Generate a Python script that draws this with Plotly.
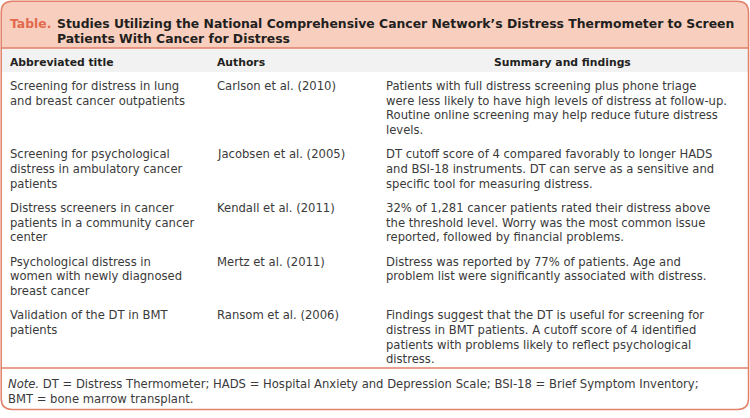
import plotly.graph_objects as go

# ---- data ----
table_label = "Table."
title_lines = [
    "Studies Utilizing the National Comprehensive Cancer Network’s Distress Thermometer to Screen",
    "Patients With Cancer for Distress",
]
column_headers = ["Abbreviated title", "Authors", "Summary and findings"]
abbreviated_titles = [
    "Screening for distress in lung\nand breast cancer outpatients",
    "Screening for psychological\ndistress in ambulatory cancer\npatients",
    "Distress screeners in cancer\npatients in a community cancer\ncenter",
    "Psychological distress in\nwomen with newly diagnosed\nbreast cancer",
    "Validation of the DT in BMT\npatients",
]
authors = [
    "Carlson et al. (2010)",
    "Jacobsen et al. (2005)",
    "Kendall et al. (2011)",
    "Mertz et al. (2011)",
    "Ransom et al. (2006)",
]
summaries = [
    "Patients with full distress screening plus phone triage\nwere less likely to have high levels of distress at follow-up.\nRoutine online screening may help reduce future distress\nlevels.",
    "DT cutoff score of 4 compared favorably to longer HADS\nand BSI-18 instruments. DT can serve as a sensitive and\nspecific tool for measuring distress.",
    "32% of 1,281 cancer patients rated their distress above\nthe threshold level. Worry was the most common issue\nreported, followed by financial problems.",
    "Distress was reported by 77% of patients. Age and\nproblem list were significantly associated with distress.",
    "Findings suggest that the DT is useful for screening for\ndistress in BMT patients. A cutoff score of 4 identified\npatients with problems likely to reflect psychological\ndistress.",
]
note_lines = [
    "<i>Note.</i> DT = Distress Thermometer; HADS = Hospital Anxiety and Depression Scale; BSI-18 = Brief Symptom Inventory;",
    "BMT = bone marrow transplant.",
]

# ---- layout / style ----
W, H = 750, 418
FONT = "DejaVu Sans"
TXT = "#3a3a3a"
DARK = "#231F20"
SALMON = "#E2806A"
BAND = "#F8CFBE"
GRAYROW = "#F2F2F2"
BODY_SIZE = 11.6
HEAD_SIZE = 10.8
TITLE_SIZE = 12.4
LINE_H = 14.6
ROW_GAP = 24.5
FIRST_ROW_Y = 86
col_x = [8, 215, 384]
note_y = [384, 398.5]
L, R, T, B = 1.2, 748.5, 1.2, 409.5
RAD = 11
BAND_BOTTOM = 48
HDR_BOTTOM = 72
SEP_Y = 368

fig = go.Figure()

def ann(x, y, text, size=BODY_SIZE, color=TXT, anchor="left", bold=False):
    fig.add_annotation(
        x=x, y=y, xref="x", yref="y", text=(f"<b>{text}</b>" if bold else text),
        showarrow=False, xanchor=anchor, yanchor="middle",
        font=dict(family=FONT, size=size, color=color), align=anchor,
    )

# header band with rounded top corners
fig.add_shape(type="path",
              path=f"M{L},{BAND_BOTTOM} V{T+RAD} Q{L},{T} {L+RAD},{T} H{R-RAD} Q{R},{T} {R},{T+RAD} V{BAND_BOTTOM} Z",
              fillcolor=BAND, line=dict(width=0), layer="below")
# column header row
fig.add_shape(type="rect", x0=L, x1=R, y0=BAND_BOTTOM, y1=HDR_BOTTOM,
              fillcolor=GRAYROW, line=dict(width=0), layer="below")
# rules
fig.add_shape(type="line", x0=L, x1=R, y0=BAND_BOTTOM, y1=BAND_BOTTOM, line=dict(color=SALMON, width=1.3))
fig.add_shape(type="line", x0=L, x1=R, y0=SEP_Y, y1=SEP_Y, line=dict(color=SALMON, width=1.3))
# outer rounded border
fig.add_shape(type="path",
              path=(f"M{L+RAD},{T} H{R-RAD} Q{R},{T} {R},{T+RAD} V{B-RAD} Q{R},{B} {R-RAD},{B} "
                    f"H{L+RAD} Q{L},{B} {L},{B-RAD} V{T+RAD} Q{L},{T} {L+RAD},{T} Z"),
              line=dict(color=SALMON, width=1.5))

# title
ann(8, 23, table_label, size=TITLE_SIZE, color="#E3694D", bold=True)
for i, t in enumerate(title_lines):
    ann(55, 23 + i * 15.5, t, size=TITLE_SIZE, color=DARK, bold=True)

# column headers
ann(col_x[0], 62, column_headers[0], size=HEAD_SIZE, bold=True, color=DARK)
ann(col_x[1], 62, column_headers[1], size=HEAD_SIZE, bold=True, color=DARK)
ann(562, 62, column_headers[2], size=HEAD_SIZE, bold=True, color=DARK, anchor="center")

# body rows: each row starts below the tallest cell of the previous row
y0 = FIRST_ROW_Y
for r in range(len(authors)):
    cells = [abbreviated_titles[r], authors[r], summaries[r]]
    nmax = 1
    for c, cell in enumerate(cells):
        lines = cell.split("\n")
        nmax = max(nmax, len(lines))
        for k, line in enumerate(lines):
            ann(col_x[c], y0 + k * LINE_H, line)
    y0 += (nmax - 1) * LINE_H + ROW_GAP

# note
for k, line in enumerate(note_lines):
    ann(6, note_y[k], line)

fig.update_xaxes(range=[0, W], visible=False, fixedrange=True)
fig.update_yaxes(range=[H, 0], visible=False, fixedrange=True)
fig.update_layout(width=W, height=H, margin=dict(l=0, r=0, t=0, b=0),
                  plot_bgcolor="white", paper_bgcolor="white", showlegend=False)
fig.write_html("out.html", config={"displayModeBar": False},
               post_script="document.body.style.margin='0px';document.body.style.overflow='hidden';")
